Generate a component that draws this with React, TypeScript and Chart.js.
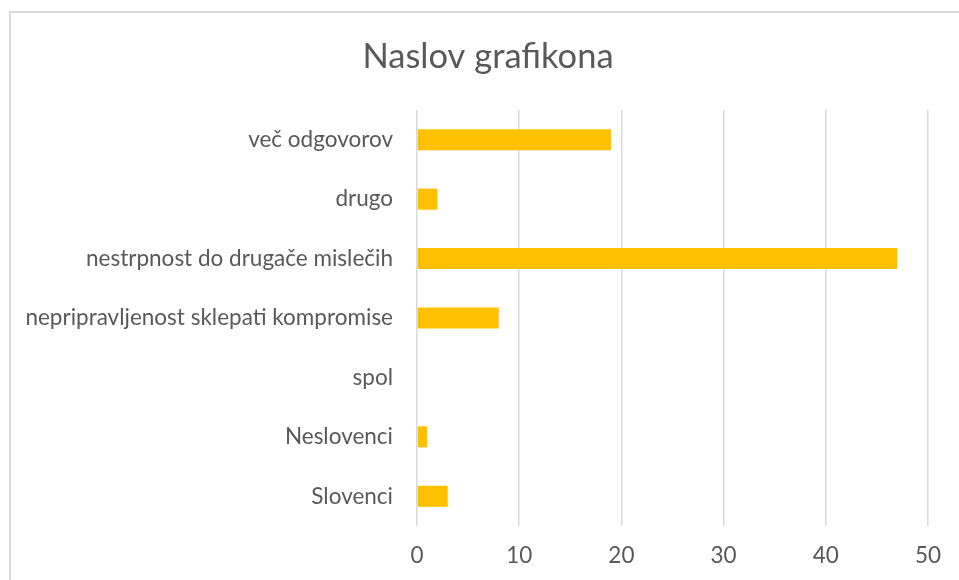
import React, { useEffect, useRef } from "react";
import { Chart, registerables } from "chart.js";

Chart.register(...registerables);

const categories = [
  "več odgovorov",
  "drugo",
  "nestrpnost do drugače mislečih",
  "nepripravljenost sklepati kompromise",
  "spol",
  "Neslovenci",
  "Slovenci",
];
const values = [19, 2, 47, 8, 0, 1, 3];
const xTicks = [0, 10, 20, 30, 40, 50];
const titleText = "Naslov grafikona";

const FONT = "Lato, 'Open Sans', sans-serif";
const TEXT = "#595959";

export default function App() {
  const ref = useRef<HTMLCanvasElement | null>(null);
  useEffect(() => {
    if (!ref.current) return;
    const chart = new Chart(ref.current, {
      type: "bar",
      data: {
        labels: categories,
        datasets: [
          {
            data: values,
            backgroundColor: "#FFC000",
            borderWidth: 0,
            categoryPercentage: 1,
            barPercentage: 0.355,
          },
        ],
      },
      options: {
        indexAxis: "y",
        animation: false,
        responsive: true,
        maintainAspectRatio: false,
        layout: { padding: 0 },
        plugins: {
          legend: { display: false },
          tooltip: { enabled: false },
          title: {
            display: true,
            text: titleText,
            color: TEXT,
            font: { family: FONT, size: 34.5, weight: "normal" },
            padding: { top: 36.3, bottom: 32.3 },
          },
        },
        scales: {
          x: {
            min: 0,
            max: 50,
            afterBuildTicks: (s: any) => {
              s.ticks = xTicks.map((v) => ({ value: v }));
            },
            afterFit: (s: any) => {
              s.height = 54;
            },
            grid: { color: "#d9d9d9", lineWidth: 1.5, drawTicks: false },
            border: { display: false },
            ticks: {
              color: TEXT,
              padding: 16,
              font: { family: FONT, size: 22.5 },
            },
          },
          y: {
            afterFit: (s: any) => {
              s.width = 417;
            },
            grid: { display: false, drawTicks: false },
            border: { display: false },
            ticks: {
              color: TEXT,
              padding: 24,
              font: { family: FONT, size: 22.5 },
            },
          },
          spacer: {
            type: "linear",
            position: "right",
            afterFit: (s: any) => {
              s.width = 48;
            },
            grid: { display: false, drawTicks: false },
            border: { display: false },
            ticks: { display: false },
          },
        },
      },
    });
    return () => chart.destroy();
  }, []);

  return (
    <div
      style={{
        position: "fixed",
        left: 0,
        top: 0,
        width: 959,
        height: 580,
        overflow: "hidden",
        background: "#fff",
      }}
    >
      <div
        style={{
          position: "absolute",
          left: 9,
          top: 11,
          width: 1000,
          height: 700,
          border: "2px solid #d9d9d9",
          boxSizing: "border-box",
        }}
      />
      <div style={{ position: "absolute", left: 0, top: 0, width: 976, height: 580 }}>
        <canvas ref={ref} />
      </div>
    </div>
  );
}
